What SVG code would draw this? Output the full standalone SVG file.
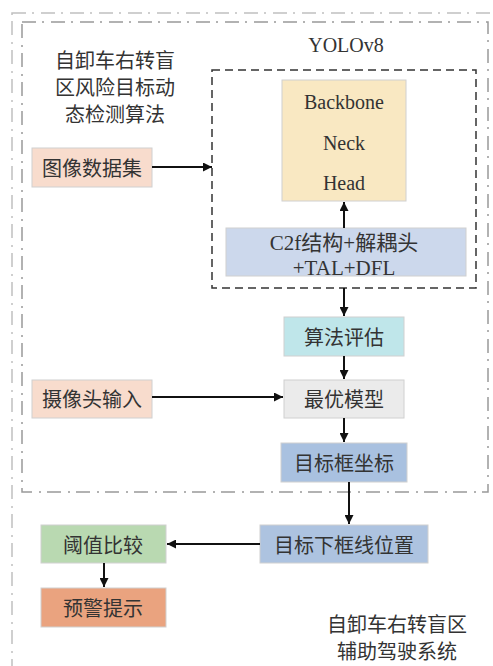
<svg xmlns="http://www.w3.org/2000/svg" width="493" height="666" viewBox="0 0 493 666">
<defs>
<marker id="ah" viewBox="0 0 10 10" refX="10" refY="5" markerWidth="9" markerHeight="9" markerUnits="userSpaceOnUse" orient="auto">
<path d="M0,0 L10,5 L0,10 Z" fill="#111"/>
</marker>
<style>
.zh{font-family:"Noto Sans CJK SC","Liberation Serif",serif;font-size:20px;fill:#333;text-anchor:middle;dominant-baseline:central}
.en{font-family:"Liberation Serif",serif;font-size:20px;fill:#333;text-anchor:middle;dominant-baseline:central}
.mix{font-family:"Liberation Serif","Noto Sans CJK SC",serif;font-size:21px;fill:#333;text-anchor:middle;dominant-baseline:central}
.box{stroke:#d0d0d0;stroke-width:1}
.conn{stroke:#111;stroke-width:2;fill:none;marker-end:url(#ah)}
</style>
</defs>
<rect x="12" y="13" width="500" height="700" fill="none" stroke="#c0c0c0" stroke-width="1.5" stroke-dasharray="14 6 2 7"/>
<rect x="22" y="22" width="466" height="470" fill="none" stroke="#999" stroke-width="1.5" stroke-dasharray="14 6 2 7"/>
<g id="title-left">
<text class="zh" x="115" y="59">自卸车右转盲</text>
<text class="zh" x="115" y="86">区风险目标动</text>
<text class="zh" x="115" y="113">态检测算法</text>
</g>
<g id="yolov8">
<rect x="212" y="70" width="264" height="218" fill="none" stroke="#333" stroke-width="1.5" stroke-dasharray="8 5"/>
<text class="en" x="346" y="45">YOLOv8</text>
</g>
<g id="backbone">
<rect class="box" x="282" y="80" width="124" height="121" fill="#f9e8c2"/>
<text class="en" x="344" y="102">Backbone</text>
<text class="en" x="344" y="143">Neck</text>
<text class="en" x="344" y="183">Head</text>
</g>
<g id="c2f">
<rect class="box" x="226" y="228" width="240" height="48" fill="#ccd8ec"/>
<text class="mix" x="344" y="243">C2f结构+解耦头</text>
<text class="mix" x="344" y="268">+TAL+DFL</text>
</g>
<g id="dataset">
<rect class="box" x="32" y="148" width="120" height="39" fill="#f8dccd"/>
<text class="zh" x="92" y="167">图像数据集</text>
</g>
<g id="eval">
<rect class="box" x="284" y="317" width="120" height="39" fill="#bfe6ea"/>
<text class="zh" x="344" y="336">算法评估</text>
</g>
<g id="camera">
<rect class="box" x="32" y="380" width="120" height="38" fill="#f8dccd"/>
<text class="zh" x="92" y="398">摄像头输入</text>
</g>
<g id="best">
<rect class="box" x="284" y="380" width="120" height="38" fill="#ebebeb"/>
<text class="zh" x="344" y="398">最优模型</text>
</g>
<g id="coords">
<rect class="box" x="281" y="443" width="126" height="39" fill="#a9c1e0"/>
<text class="zh" x="344" y="462">目标框坐标</text>
</g>
<g id="lowerline">
<rect class="box" x="260" y="525" width="168" height="38" fill="#adc3e0"/>
<text class="zh" x="344" y="544">目标下框线位置</text>
</g>
<g id="threshold">
<rect class="box" x="41" y="525" width="125" height="38" fill="#b9d9b1"/>
<text class="zh" x="103" y="544">阈值比较</text>
</g>
<g id="warning">
<rect class="box" x="41" y="588" width="125" height="39" fill="#eaa37f"/>
<text class="zh" x="103" y="607">预警提示</text>
</g>
<g id="title-system">
<text class="zh" x="397" y="623">自卸车右转盲区</text>
<text class="zh" x="397" y="650">辅助驾驶系统</text>
</g>
<g id="connectors">
<line class="conn" x1="152" y1="167" x2="212" y2="167"/>
<line class="conn" x1="344" y1="228" x2="344" y2="202"/>
<line class="conn" x1="344" y1="288" x2="344" y2="316"/>
<line class="conn" x1="344" y1="356" x2="344" y2="379"/>
<line class="conn" x1="152" y1="397" x2="283" y2="397"/>
<line class="conn" x1="344" y1="418" x2="344" y2="442"/>
<line class="conn" x1="349" y1="482" x2="349" y2="524"/>
<line class="conn" x1="260" y1="544" x2="167" y2="544"/>
<line class="conn" x1="104" y1="563" x2="104" y2="587"/>
</g>
</svg>
